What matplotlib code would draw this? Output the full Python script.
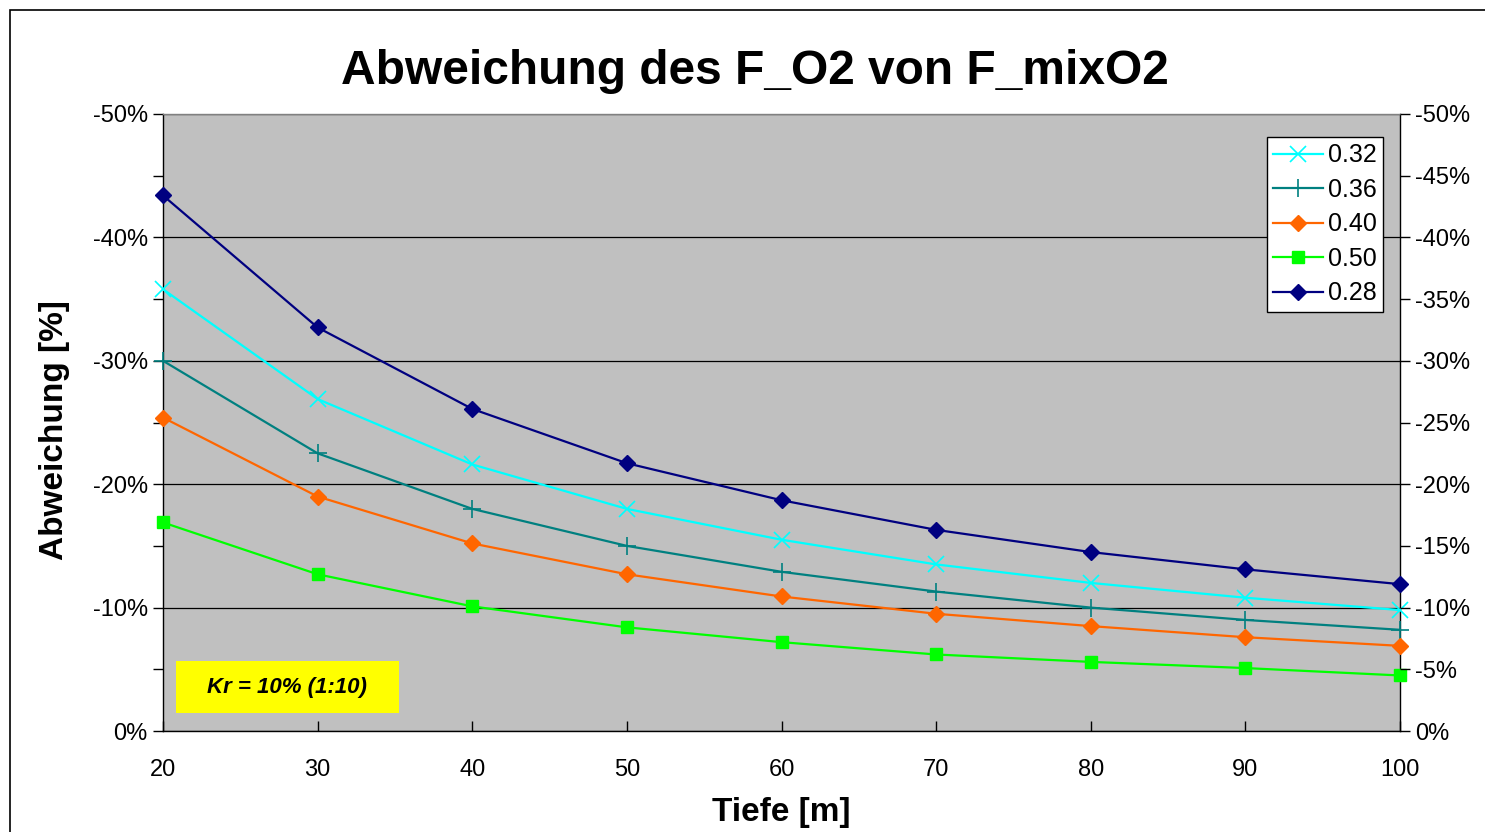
import matplotlib
matplotlib.use("Agg")
import matplotlib.pyplot as plt
from matplotlib.patches import Rectangle
from matplotlib.ticker import MultipleLocator, FuncFormatter

plt.rcParams['font.family'] = ['Liberation Sans', 'DejaVu Sans']

# Tiefe in Metern
depth = [20, 30, 40, 50, 60, 70, 80, 90, 100]

# Abweichung in Prozent je Sauerstoffanteil
dev_032 = [-35.8, -26.9, -21.6, -18.0, -15.5, -13.5, -12.0, -10.8, -9.8]
dev_036 = [-30.0, -22.5, -18.0, -15.0, -12.9, -11.3, -10.0, -9.0, -8.2]
dev_040 = [-25.4, -19.0, -15.2, -12.7, -10.9, -9.5, -8.5, -7.6, -6.9]
dev_050 = [-16.9, -12.7, -10.1, -8.4, -7.2, -6.2, -5.6, -5.1, -4.5]
dev_028 = [-43.4, -32.7, -26.1, -21.7, -18.7, -16.3, -14.5, -13.1, -11.9]

series_labels = ['0.32', '0.36', '0.40', '0.50', '0.28']

fig = plt.figure(figsize=(14.85, 8.32), dpi=100)
W, H = 1485, 832

# outer frame of the chart
fig.patches.append(Rectangle((10 / W, -0.1), 1.2, 1 - 10 / H + 0.1,
                             transform=fig.transFigure, fill=False,
                             edgecolor='black', linewidth=1.2))

ax = fig.add_axes([163 / W, 1 - 731 / H, (1400 - 163) / W, (731 - 114) / H])
ax.set_facecolor('#C0C0C0')

styles = [
    dict(color='#00FFFF', marker='x', markersize=11, markeredgewidth=1.2),
    dict(color='#008080', marker='+', markersize=13, markeredgewidth=1.2),
    dict(color='#FF6600', marker='D', markersize=8),
    dict(color='#00FF00', marker='s', markersize=9),
    dict(color='#000080', marker='D', markersize=8),
]
data = [dev_032, dev_036, dev_040, dev_050, dev_028]
for vals, lab, st in zip(data, series_labels, styles):
    ax.plot(depth, vals, linewidth=1.6, label=lab, clip_on=False, zorder=3, **st)

ax.set_xlim(20, 100)
ax.set_ylim(0, -50)
ax.xaxis.set_major_locator(MultipleLocator(10))
ax.yaxis.set_major_locator(MultipleLocator(10))
ax.yaxis.set_minor_locator(MultipleLocator(5))
pct = FuncFormatter(lambda v, p: f"{int(round(v))}%")
ax.yaxis.set_major_formatter(pct)

ax.grid(axis='y', which='major', color='black', linewidth=0.9)
ax.set_axisbelow(True)

ax.tick_params(axis='y', which='both', direction='out', length=7, width=1,
               labelsize=17, pad=4)
ax.tick_params(axis='x', which='major', direction='in', length=7, width=1,
               labelsize=17, pad=20)

for s in ['left', 'right', 'bottom']:
    ax.spines[s].set_color('black')
    ax.spines[s].set_linewidth(1.0)
ax.spines['top'].set_color('#808080')
ax.spines['top'].set_linewidth(1.0)

ax2 = ax.twinx()
ax2.set_ylim(0, -50)
ax2.yaxis.set_major_locator(MultipleLocator(5))
ax2.yaxis.set_major_formatter(pct)
ax2.tick_params(axis='y', direction='out', length=7, width=1, labelsize=17, pad=4)
for s in ax2.spines.values():
    s.set_visible(False)

ax.set_xlabel('Tiefe [m]', fontsize=24, fontweight='bold', labelpad=12)
ax.set_ylabel('Abweichung [%]', fontsize=24, fontweight='bold')
ax.yaxis.set_label_coords((70 - 163) / (1400 - 163), (731 - 430) / (731 - 114))
fig.text(755 / W, 1 - 72 / H, 'Abweichung des F_O2 von F_mixO2',
         ha='center', va='center', fontsize=34.5, fontweight='bold')

leg = ax.legend(loc='upper right', bbox_to_anchor=(1383 / W, 1 - 137 / H),
                bbox_transform=fig.transFigure, fontsize=18, frameon=True,
                fancybox=False, framealpha=1, edgecolor='black',
                handlelength=2.0, handletextpad=0.2, borderpad=0.25,
                labelspacing=0.42, borderaxespad=0)
leg.get_frame().set_linewidth(1.0)
leg.set_zorder(5)

fig.patches.append(Rectangle((176 / W, 1 - 713 / H), (399 - 176) / W, 52 / H,
                             transform=fig.transFigure, facecolor='#FFFF00',
                             edgecolor='none', zorder=4))
fig.text(287 / W, 1 - 687 / H, 'Kr = 10% (1:10)', ha='center', va='center',
         fontsize=16, fontweight='bold', fontstyle='italic', zorder=6)

fig.savefig('out.png', dpi=100)
